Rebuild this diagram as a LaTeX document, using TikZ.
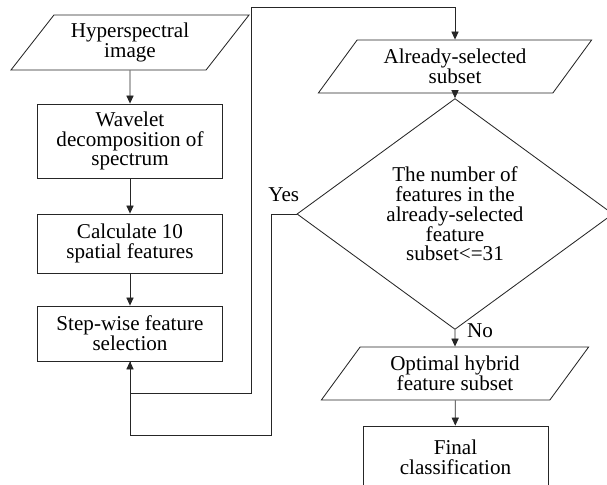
\documentclass[tikz,border=0pt]{standalone}
\usepackage{fontspec}
\setmainfont{Liberation Serif}
\usetikzlibrary{shapes.geometric,arrows.meta}
\tikzstyle{process}=[draw=black!85,line width=0.6pt,rectangle,minimum width=4.625cm,align=center,inner sep=2pt,font=\fontsize{15}{14}\selectfont]
\tikzstyle{data}=[draw=black!85,line width=0.6pt,trapezium,trapezium left angle=46,trapezium right angle=134,trapezium stretches body,align=center,inner sep=2pt,font=\fontsize{15}{14}\selectfont]
\tikzstyle{decision}=[draw=black!85,line width=0.6pt,diamond,minimum width=7.9cm,minimum height=4.8cm,inner sep=0pt,align=center,font=\fontsize{15}{14}\selectfont]
\tikzstyle{flow}=[draw=black!85,line width=0.6pt,-{Triangle[length=0.2cm,width=0.18cm]}]

\begin{document}
\begin{tikzpicture}[x=0.025cm,y=-0.025cm]
                  \useasboundingbox (0,0) rectangle (607,485);

                  \node (hyp) at (130,42.5) [data,minimum width=5.95cm,minimum height=1.375cm] {Hyperspectral\\image};
                  \node (wav) at (130,141) [process,minimum height=1.85cm] {Wavelet\\decomposition of\\spectrum};
                  \node (calc) at (130,243.5) [process,minimum height=1.475cm] {Calculate 10\\spatial features};
                  \node (step) at (130,333.5) [process,minimum height=1.375cm] {Step-wise feature\\selection};

                  \node (sel) at (455,66.5) [data,minimum width=6.83cm,minimum height=1.325cm] {Already-selected\\subset};
                  \node (dia) at (455,214) [decision] {The number of\\features in the\\already-selected\\feature\\subset<=31};
                  \node (opt) at (455,373.5) [data,minimum width=6.68cm,minimum height=1.325cm] {Optimal hybrid\\feature subset};
                  \node (fin) at (455.5,457) [process,minimum height=1.55cm] {Final\\classification};

                  \coordinate (loopa) at (251,393);
                  \coordinate (loopb) at (251,7);
                  \coordinate (loopc) at (271,435);

                  \draw [flow] (hyp) -- (wav);
                  \draw [flow] (wav) -- (calc);
                  \draw [flow] (calc) -- (step);

                  \draw [flow] (step.south) |- (loopa) -- (loopb) -| (sel.north);
                  \draw [flow] (sel) -- (dia);
                  \draw [flow] (dia.west) -| node[pos=0.25,above=5pt,font=\fontsize{15}{14}\selectfont] {Yes} (loopc) -| (step.south);
                  \draw [flow] (dia.south) -- node[pos=0.3,right=5pt,yshift=3pt,font=\fontsize{15}{14}\selectfont] {No} (opt.north);
                  \draw [flow] (opt) -- (fin);
              \end{tikzpicture}
\end{document}
